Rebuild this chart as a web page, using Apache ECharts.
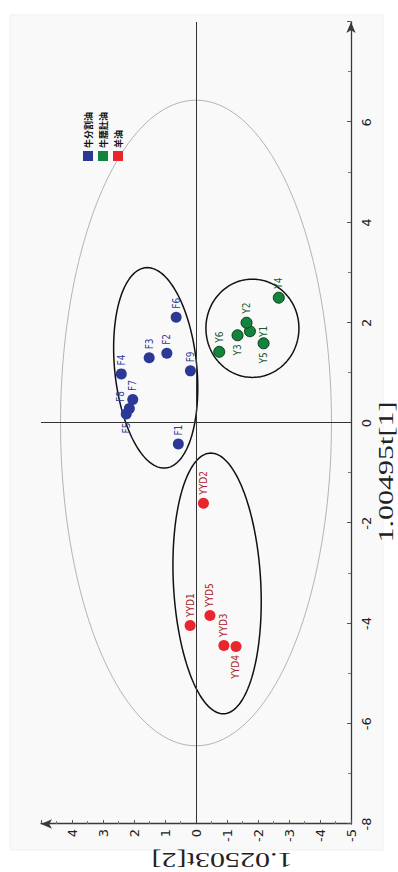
<!DOCTYPE html>
<html>
<head>
<meta charset="utf-8">
<script src="https://cdn.jsdelivr.net/npm/echarts@6/dist/echarts.min.js"></script>
<style>
  html, body { margin: 0; padding: 0; background: #fff; overflow: hidden; width: 398px; height: 872px; }
  /* the score plot is laid out landscape and turned a quarter turn to stand upright */
  #plot { position: absolute; left: 0; top: 0; width: 872px; height: 398px;
          transform-origin: 0 0; transform: translate(0px, 872px) rotate(-90deg); }
</style>
</head>
<body>
<div id="plot"></div>
<script>
// PCA score plot: t[1] against t[2] for three kinds of fat
const groupNames = ['牛分割油', '牛腰肚油', '羊油'];

const fatNames = ['F1', 'F2', 'F3', 'F4', 'F5', 'F6', 'F7', 'F8', 'F9'];
const fatT1    = [-0.42, 1.39, 1.30, 0.98, 0.18, 2.11, 0.47, 0.29, 1.04];
const fatT2    = [0.57, 0.94, 1.51, 2.41, 2.25, 0.64, 2.04, 2.15, 0.18];

const tallowNames = ['Y1', 'Y2', 'Y3', 'Y4', 'Y5', 'Y6'];
const tallowT1    = [1.83, 2.00, 1.75, 2.50, 1.59, 1.42];
const tallowT2    = [-1.74, -1.63, -1.34, -2.67, -2.18, -0.75];

const muttonNames = ['YYD1', 'YYD2', 'YYD3', 'YYD4', 'YYD5'];
const muttonT1    = [-4.04, -1.60, -4.44, -4.46, -3.84];
const muttonT2    = [0.19, -0.24, -0.90, -1.29, -0.45];

// confidence ellipses: centre, half major axis vector, half minor axis vector (t[1], t[2])
const ellipseCenters = [[0, 0], [1.10, 1.30], [1.89, -1.82], [-3.2, -0.68]];
const ellipseMajor   = [[6.44, 0], [2.0, 0.27], [0.98, 0], [2.6, 0.2]];
const ellipseMinor   = [[0, 4.37], [0, 1.33], [0, 1.50], [0, 1.41]];

const t1Range = [-8, 8];
const t2Range = [-5, 5];

// label placement around each point
const labelSide = { F5: 'left', Y1: 'bottom', Y3: 'left', Y5: 'left', YYD4: 'left' };
const labelShift = { F8: [-2, -9] };

const colors = ['#2c3896', '#13843b', '#e8262b'];
const labelColors = ['#2c3896', '#1b5a2c', '#a8242a'];

function points(names, t1, t2) {
  return names.map((n, i) => ({
    name: n,
    value: [t1[i], t2[i]],
    label: { position: labelSide[n] || 'right', offset: labelShift[n] || [0, 0] }
  }));
}

const ellipseRows = ellipseCenters.map((c, i) =>
  [c[0], c[1], ellipseMajor[i][0], ellipseMajor[i][1], ellipseMinor[i][0], ellipseMinor[i][1]]);

const chart = echarts.init(document.getElementById('plot'), null, { renderer: 'svg' });

const tickFont = { fontFamily: 'DejaVu Sans', fontSize: 13, color: '#222' };

function scatterSeries(idx, data) {
  return {
    name: groupNames[idx],
    type: 'scatter',
    z: 4,
    symbol: 'circle',
    symbolSize: 11,
    itemStyle: {
      color: colors[idx],
      borderColor: idx === 1 ? '#0a3d18' : colors[idx],
      borderWidth: idx === 1 ? 1 : 0,
      opacity: 1
    },
    label: {
      show: true,
      formatter: '{b}',
      distance: 3,
      fontFamily: "'Liberation Sans Narrow', 'DejaVu Sans Condensed', sans-serif",
      fontSize: 10,
      color: labelColors[idx]
    },
    emphasis: { disabled: true },
    data: data
  };
}

chart.setOption({
  animation: false,
  backgroundColor: '#fff',
  graphic: [
    { type: 'rect', z: -10, silent: true,
      shape: { x: 22, y: 10, width: 835, height: 373 },
      style: { fill: '#f9f9f9', stroke: '#f0f0f0' } },
    { type: 'text', silent: true, x: 400, y: 386, scaleX: 1.5,
      style: { text: '1.00495t[1]', font: '20px "Liberation Serif"', fill: '#222',
               align: 'center', verticalAlign: 'middle', textAlign: 'center', textVerticalAlign: 'middle' } },
    { type: 'text', silent: true, x: 12, y: 222, rotation: Math.PI / 2, scaleX: 1.5,
      style: { text: '1.02503t[2]', font: '20px "Liberation Serif"', fill: '#222',
               align: 'center', verticalAlign: 'middle', textAlign: 'center', textVerticalAlign: 'middle' } }
  ],
  legend: {
    orient: 'vertical',
    left: 711,
    top: 83,
    itemWidth: 10,
    itemHeight: 10,
    itemGap: 5,
    padding: 0,
    icon: 'rect',
    itemStyle: { borderWidth: 0 },
    data: groupNames,
    textStyle: { fontFamily: 'Noto Sans CJK SC', fontSize: 9, fontWeight: 'bold', color: '#111', padding: [0, 0, 0, -2] }
  },
  grid: { left: 48, right: 22, top: 41, bottom: 47, containLabel: false },
  xAxis: {
    type: 'value',
    min: t1Range[0], max: t1Range[1], interval: 2,
    axisLine: { show: true, onZero: false, symbol: ['none', 'arrow'], symbolSize: [7, 11],
                lineStyle: { color: '#3a3a3a', width: 1.3 } },
    axisTick: { show: true, inside: true, length: 4, lineStyle: { color: '#555' } },
    minorTick: { show: true, splitNumber: 2, length: 3, lineStyle: { color: '#777' } },
    axisLabel: Object.assign({ margin: 9, showMaxLabel: false,
                               formatter: v => (v === t1Range[1] ? '' : String(v)) }, tickFont),
    splitLine: { show: false }
  },
  yAxis: {
    type: 'value',
    min: t2Range[0], max: t2Range[1], interval: 1,
    axisLine: { show: true, onZero: false, symbol: ['none', 'arrow'], symbolSize: [7, 11],
                lineStyle: { color: '#3a3a3a', width: 1.3 } },
    axisTick: { show: true, inside: true, length: 4, lineStyle: { color: '#555' } },
    minorTick: { show: true, splitNumber: 2, length: 3, lineStyle: { color: '#777' } },
    axisLabel: Object.assign({ margin: 5, showMaxLabel: false,
                               formatter: v => (v === t2Range[1] ? '' : String(v)) }, tickFont),
    splitLine: { show: false }
  },
  series: [
    {
      type: 'custom',
      z: 1,
      silent: true,
      renderItem: function (params, api) {
        const c = [api.value(0), api.value(1)];
        const a = [api.value(2), api.value(3)];
        const b = [api.value(4), api.value(5)];
        const pts = [];
        for (let k = 0; k <= 180; k++) {
          const th = 2 * Math.PI * k / 180;
          pts.push(api.coord([
            c[0] + a[0] * Math.cos(th) + b[0] * Math.sin(th),
            c[1] + a[1] * Math.cos(th) + b[1] * Math.sin(th)
          ]));
        }
        const outer = params.dataIndex === 0;
        return {
          type: 'polygon',
          shape: { points: pts },
          style: { fill: 'none', stroke: outer ? '#b4b4b4' : '#111', lineWidth: outer ? 1 : 1.5 }
        };
      },
      encode: { x: 0, y: 1 },
      data: ellipseRows,
      markLine: {
        silent: true,
        symbol: 'none',
        label: { show: false },
        lineStyle: { color: '#333', width: 1, type: 'solid' },
        data: [{ xAxis: 0 }, { yAxis: 0 }]
      }
    },
    scatterSeries(0, points(fatNames, fatT1, fatT2)),
    scatterSeries(1, points(tallowNames, tallowT1, tallowT2)),
    scatterSeries(2, points(muttonNames, muttonT1, muttonT2))
  ]
});
</script>
</body>
</html>
